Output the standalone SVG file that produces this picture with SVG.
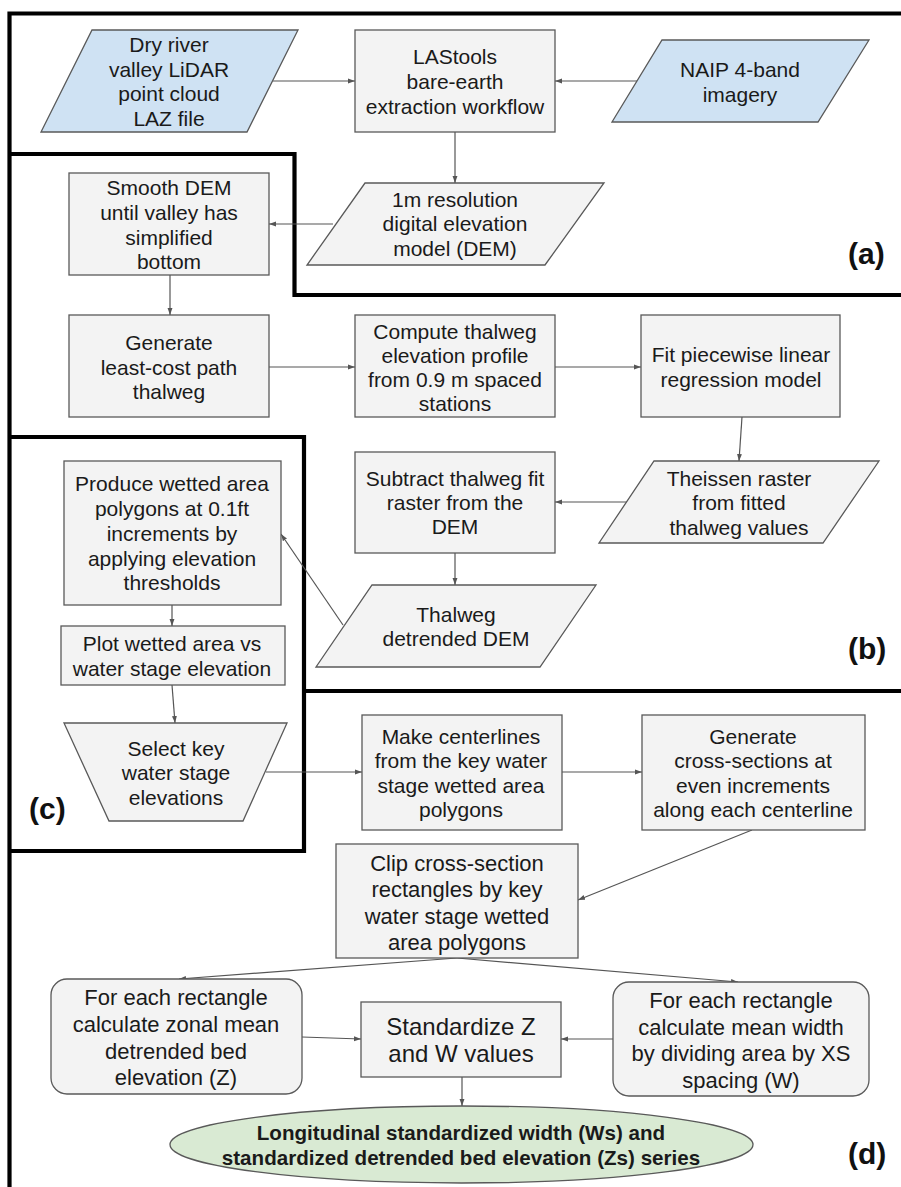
<svg xmlns="http://www.w3.org/2000/svg" width="901" height="1187" viewBox="0 0 901 1187">
<defs>
<marker id="ah" viewBox="0 0 10 10" refX="10" refY="5" markerWidth="7" markerHeight="7" markerUnits="userSpaceOnUse" orient="auto">
<path d="M0,1.5 L10,5 L0,8.5 z" fill="#555"/>
</marker>
<style>
.bx{fill:#f3f3f3;stroke:#595959;stroke-width:1.3}
.bl{fill:#cfe2f3;stroke:#595959;stroke-width:1.3}
.gr{fill:#d9ead3;stroke:#595959;stroke-width:1.3}
.t{font-family:"Liberation Sans",Arial,sans-serif;font-size:21px;fill:#1a1a1a;text-anchor:middle}
.t22{font-size:22px}
.t24{font-size:24px}
.tb{font-family:"Liberation Sans",Arial,sans-serif;font-weight:bold;font-size:20.6px;fill:#1a1a1a;text-anchor:middle}
.lab{font-family:"Liberation Sans",Arial,sans-serif;font-weight:bold;font-size:30px;fill:#111}
.brd{fill:none;stroke:#000;stroke-width:4.2}
.c{fill:none;stroke:#555;stroke-width:1.2;marker-end:url(#ah)}
</style>
</defs>
<rect width="901" height="1187" fill="#fff"/>

<g id="sections">
<path class="brd" d="M9.5,1187 L9.5,13.5 L901,13.5"/>
<path class="brd" d="M9.5,154 L294.5,154 L294.5,295 L901,295"/>
<path class="brd" d="M9.5,437 L304,437 L304,851 L9.5,851"/>
<path class="brd" d="M304,691 L901,691"/>
<text class="lab" x="848" y="264">(a)</text>
<text class="lab" x="848" y="659">(b)</text>
<text class="lab" x="29" y="819">(c)</text>
<text class="lab" x="848" y="1164">(d)</text>
</g>

<g id="connectors">
<line class="c" x1="273" y1="81" x2="355" y2="81"/>
<line class="c" x1="637" y1="81" x2="555" y2="81"/>
<line class="c" x1="455" y1="132" x2="455" y2="183"/>
<line class="c" x1="333" y1="224" x2="269" y2="224"/>
<line class="c" x1="170" y1="275" x2="170" y2="315"/>
<line class="c" x1="269" y1="367" x2="355" y2="367"/>
<line class="c" x1="555" y1="367" x2="641" y2="367"/>
<line class="c" x1="742" y1="417" x2="739" y2="461"/>
<line class="c" x1="627" y1="502" x2="555" y2="502"/>
<line class="c" x1="455" y1="553" x2="455" y2="585"/>
<line class="c" x1="343" y1="625" x2="281" y2="534"/>
<line class="c" x1="172" y1="605" x2="172" y2="626"/>
<line class="c" x1="172" y1="685" x2="175" y2="723"/>
<line class="c" x1="266" y1="772" x2="362" y2="772"/>
<line class="c" x1="562" y1="772" x2="642" y2="772"/>
<line class="c" x1="752" y1="830" x2="578" y2="900"/>
<line class="c" x1="457" y1="958" x2="179" y2="979"/>
<line class="c" x1="457" y1="958" x2="738" y2="982"/>
<line class="c" x1="302" y1="1037" x2="361" y2="1039"/>
<line class="c" x1="613" y1="1039" x2="561" y2="1039"/>
<line class="c" x1="462" y1="1077" x2="462" y2="1106"/>
</g>

<g id="n-lidar">
<polygon class="bl" points="92,30 298,30 247,132 41,132"/>
<text class="t" x="169" y="52">Dry river</text>
<text class="t" x="169" y="77">valley LiDAR</text>
<text class="t" x="169" y="101">point cloud</text>
<text class="t" x="169" y="126">LAZ file</text>
</g>

<g id="n-lastools">
<rect class="bx" x="355" y="30" width="200" height="102"/>
<text class="t" x="455" y="64">LAStools</text>
<text class="t" x="455" y="89">bare-earth</text>
<text class="t" x="455" y="114">extraction workflow</text>
</g>

<g id="n-naip">
<polygon class="bl" points="662,40 869,40 818,122 612,122"/>
<text class="t" x="740" y="77">NAIP 4-band</text>
<text class="t" x="740" y="102">imagery</text>
</g>

<g id="n-dem">
<polygon class="bx" points="365,183 604,183 545,265 307,265"/>
<text class="t" x="455" y="207">1m resolution</text>
<text class="t" x="455" y="231">digital elevation</text>
<text class="t" x="455" y="256">model (DEM)</text>
</g>

<g id="n-smooth">
<rect class="bx" x="69" y="173" width="200" height="102"/>
<text class="t" x="169" y="195">Smooth DEM</text>
<text class="t" x="169" y="220">until valley has</text>
<text class="t" x="169" y="245">simplified</text>
<text class="t" x="169" y="269">bottom</text>
</g>

<g id="n-leastcost">
<rect class="bx" x="69" y="315" width="200" height="102"/>
<text class="t" x="169" y="350">Generate</text>
<text class="t" x="169" y="375">least-cost path</text>
<text class="t" x="169" y="399">thalweg</text>
</g>

<g id="n-compute">
<rect class="bx" x="355" y="315" width="200" height="102"/>
<text class="t" x="455" y="339">Compute thalweg</text>
<text class="t" x="455" y="363">elevation profile</text>
<text class="t" x="455" y="387">from 0.9 m spaced</text>
<text class="t" x="455" y="411">stations</text>
</g>

<g id="n-fit">
<rect class="bx" x="641" y="315" width="199" height="102"/>
<text class="t" x="741" y="362">Fit piecewise linear</text>
<text class="t" x="741" y="387">regression model</text>
</g>

<g id="n-theissen">
<polygon class="bx" points="654,461 879,461 823,543 599,543"/>
<text class="t" x="739" y="486">Theissen raster</text>
<text class="t" x="739" y="510">from fitted</text>
<text class="t" x="739" y="535">thalweg values</text>
</g>

<g id="n-subtract">
<rect class="bx" x="355" y="452" width="200" height="101"/>
<text class="t" x="455" y="486">Subtract thalweg fit</text>
<text class="t" x="455" y="510">raster from the</text>
<text class="t" x="455" y="534">DEM</text>
</g>

<g id="n-detrended">
<polygon class="bx" points="372,585 596,585 540,667 316,667"/>
<text class="t" x="456" y="622">Thalweg</text>
<text class="t" x="456" y="646">detrended DEM</text>
</g>

<g id="n-produce">
<rect class="bx" x="64" y="461" width="217" height="144"/>
<text class="t" x="172" y="491">Produce wetted area</text>
<text class="t" x="172" y="516">polygons at 0.1ft</text>
<text class="t" x="172" y="541">increments by</text>
<text class="t" x="172" y="566">applying elevation</text>
<text class="t" x="172" y="590">thresholds</text>
</g>

<g id="n-plot">
<rect class="bx" x="61" y="626" width="224" height="59"/>
<text class="t" x="172" y="651">Plot wetted area vs</text>
<text class="t" x="172" y="676">water stage elevation</text>
</g>

<g id="n-select">
<polygon class="bx" points="64,723 287,723 243,821 109,821"/>
<text class="t" x="176" y="756">Select key</text>
<text class="t" x="176" y="780">water stage</text>
<text class="t" x="176" y="805">elevations</text>
</g>

<g id="n-centerlines">
<rect class="bx" x="362" y="715" width="200" height="115"/>
<text class="t" x="461" y="744">Make centerlines</text>
<text class="t" x="461" y="768">from the key water</text>
<text class="t" x="461" y="793">stage wetted area</text>
<text class="t" x="461" y="817">polygons</text>
</g>

<g id="n-xsections">
<rect class="bx" x="642" y="715" width="223" height="115"/>
<text class="t" x="753" y="744">Generate</text>
<text class="t" x="753" y="768">cross-sections at</text>
<text class="t" x="753" y="793">even increments</text>
<text class="t" x="753" y="817">along each centerline</text>
</g>

<g id="n-clip">
<rect class="bx" x="336" y="844" width="242" height="114"/>
<text class="t t22" x="457" y="871">Clip cross-section</text>
<text class="t t22" x="457" y="897">rectangles by key</text>
<text class="t t22" x="457" y="924">water stage wetted</text>
<text class="t t22" x="457" y="950">area polygons</text>
</g>

<g id="n-zonal">
<rect class="bx" x="51" y="979" width="251" height="115" rx="16"/>
<text class="t t22" x="176" y="1005">For each rectangle</text>
<text class="t t22" x="176" y="1032">calculate zonal mean</text>
<text class="t t22" x="176" y="1059">detrended bed</text>
<text class="t t22" x="176" y="1085">elevation (Z)</text>
</g>

<g id="n-standardize">
<rect class="bx" x="361" y="1002" width="200" height="75"/>
<text class="t t24" x="461" y="1035">Standardize Z</text>
<text class="t t24" x="461" y="1062">and W values</text>
</g>

<g id="n-width">
<rect class="bx" x="613" y="982" width="256" height="114" rx="16"/>
<text class="t t22" x="741" y="1008">For each rectangle</text>
<text class="t t22" x="741" y="1035">calculate mean width</text>
<text class="t t22" x="741" y="1061">by dividing area by XS</text>
<text class="t t22" x="741" y="1088">spacing (W)</text>
</g>

<g id="n-output">
<ellipse class="gr" cx="461.5" cy="1144.5" rx="291.5" ry="38.5"/>
<text class="tb" x="461" y="1140">Longitudinal standardized width (Ws) and</text>
<text class="tb" x="461" y="1165">standardized detrended bed elevation (Zs) series</text>
</g>
</svg>
